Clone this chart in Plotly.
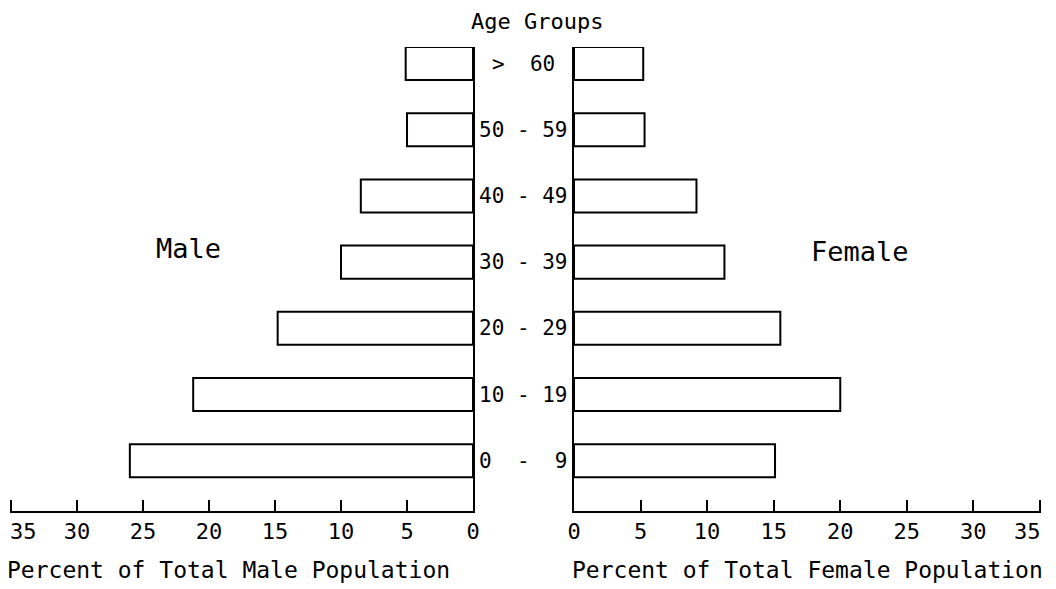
import plotly.graph_objects as go

# Age-group population pyramid: percent of male / female population
age_groups = ["0  -  9", "10 - 19", "20 - 29", "30 - 39", "40 - 49", "50 - 59", ">  60"]
male_pct = [26.0, 21.2, 14.8, 10.0, 8.5, 5.0, 5.1]
female_pct = [15.1, 20.0, 15.5, 11.3, 9.2, 5.3, 5.2]
tick_values = [0, 5, 10, 15, 20, 25, 30, 35]

W, H = 1056, 589
FONT = "DejaVu Sans Mono"
positions = list(range(len(age_groups)))

fig = go.Figure()

bar_style = dict(
    orientation="h",
    width=0.5,
    marker=dict(color="white", line=dict(color="black", width=2)),
    hoverinfo="skip",
    showlegend=False,
)
fig.add_trace(go.Bar(x=male_pct, y=positions, xaxis="x", yaxis="y", **bar_style))
fig.add_trace(go.Bar(x=female_pct, y=positions, xaxis="x2", yaxis="y2", **bar_style))

y_range = [-0.76, 6.25]
y_dom = [(H - 511) / H, (H - 47) / H]
tick_font = dict(family=FONT, size=22, color="black")

# the outermost label (35) is placed separately so it stays inside the page
inner_text = [str(v) if v != tick_values[-1] else "" for v in tick_values]

x_common = dict(
    tickvals=tick_values,
    ticktext=inner_text,
    ticks="inside",
    ticklen=11,
    tickwidth=2,
    tickcolor="black",
    showline=True,
    linecolor="black",
    linewidth=2,
    showgrid=False,
    zeroline=False,
    automargin=False,
    ticklabelstandoff=0,
    tickfont=tick_font,
    fixedrange=True,
)
y_common = dict(
    range=y_range,
    domain=y_dom,
    showline=True,
    linecolor="black",
    linewidth=2,
    showgrid=False,
    zeroline=False,
    showticklabels=False,
    ticks="",
    automargin=False,
    fixedrange=True,
)

fig.update_layout(
    width=W,
    height=H,
    margin=dict(l=0, r=0, t=0, b=0),
    paper_bgcolor="white",
    plot_bgcolor="white",
    barmode="overlay",
    xaxis=dict(domain=[10 / W, 473 / W], range=[35.08, 0], anchor="y", **x_common),
    xaxis2=dict(domain=[574 / W, 1041 / W], range=[0, 35.08], anchor="y2", **x_common),
    yaxis=dict(anchor="x", side="right", **y_common),
    yaxis2=dict(anchor="x2", side="left", **y_common),
)

# end labels of both percent axes
fig.add_annotation(x=tick_values[-1], xref="x", y=1 - 531 / H, yref="paper",
                   text=str(tick_values[-1]), showarrow=False, font=tick_font,
                   xanchor="left", yanchor="middle", xshift=-3)
fig.add_annotation(x=tick_values[-1], xref="x2", y=1 - 531 / H, yref="paper",
                   text=str(tick_values[-1]), showarrow=False, font=tick_font,
                   xanchor="right", yanchor="middle", xshift=3)

# Age group labels between the two halves
for pos, label in zip(positions, age_groups):
    fig.add_annotation(
        x=523 / W, xref="paper", y=pos, yref="y",
        text=label, showarrow=False,
        font=dict(family=FONT, size=21, color="black"),
        xanchor="center", yanchor="middle",
    )

text_items = [
    ("Age Groups", 537, 21, 22),
    ("Male", 188, 248, 27),
    ("Female", 860, 251, 27),
    ("Percent of Total Male Population", 228, 570, 23),
    ("Percent of Total Female Population", 807, 570, 23),
]
for txt, px, py, size in text_items:
    fig.add_annotation(
        x=px / W, xref="paper", y=1 - py / H, yref="paper",
        text=txt, showarrow=False,
        font=dict(family=FONT, size=size, color="black"),
        xanchor="center", yanchor="middle",
    )

fig.write_html("out.html")
